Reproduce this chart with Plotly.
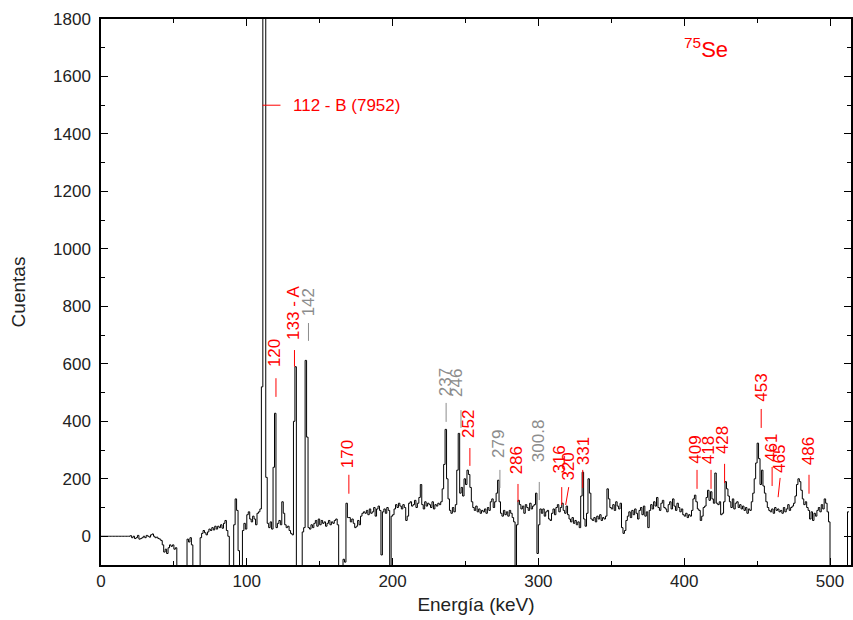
import plotly.graph_objects as go

# ---------------- spectrum data (1 keV channels, left edge energy) ----------------
energy_kev = list(range(0, 514))
counts = [
    0, 0, 0, 0, 0, 0, 0, 0, 0, 0,
    0, 0, 0, 0, 0, 0, 0, 0, 0, 0,
    2, -5, 0, -8, -5, 3, -10, -8, -5, 0,
    -5, 3, 0, -3, 5, 8, 0, -5, -3, -8,
    -10, -15, -30, -55, -45, -60, -40, -30, -35, -30,
    -45, -40, -200, -200, -200, -200, -200, -200, -200, -10,
    -20, -5, -30, -200, -200, -200, -200, -200, -5, 10,
    20, 12, 5, 15, 25, 20, 30, 22, 35, 25,
    35, 30, 40, 28, 45, 55, 20, 0, -200, -200,
    -200, 40, 130, 90, -50, -200, -200, 20, 45, 25,
    75, 85, 60, 50, 70, 60, 40, 80, 85, 95,
    520, 7952, 3500, 205, 45, 30, 50, 25, 240, 428,
    30, 45, 55, 40, 120, 80, 40, 30, 35, 20,
    10, 5, 400, 590, -200, -200, -200, -200, 15, 30,
    612, 345, 30, 25, 40, 30, 45, 55, 35, 60,
    40, 55, 45, 50, 35, 45, 55, 40, 50, 45,
    55, 60, 40, -200, -200, -200, -80, -90, 115, 65,
    65, 50, 60, 45, 30, 35, 55, 40, 70, 80,
    85, 80, 90, 75, 95, 80, 85, 100, 70, 95,
    105, 90, -65, 85, 95, 80, 100, 90, -200, 70,
    75, 95, 110, 100, 115, 105, 95, 110, 100, 55,
    70, 115, 120, 105, 110, 125, 100, 115, 135, 180,
    110, 95, 120, 105, 115, 110, 100, 120, 95, 110,
    105, 115, 110, 120, 165, 250, 372, 200, 130, 90,
    80, 100, 85, 110, 230, 358, 150, 170, 140, 200,
    180, 230, 215, 170, 120, 100, 90, 105, 85, 95,
    80, 90, 85, 95, 80, 100, 90, 120, 130, 100,
    120, 150, 195, 120, 80, 70, 90, 75, 85, 70,
    90, 80, 65, 50, -200, 40, 125, 110, 95, 105,
    80, 110, 100, 90, 115, 95, 105, 110, 150, -60,
    40, 95, 80, 95, 70, 85, 90, 60, 55, 80,
    95, 75, 100, 110, 85, 100, 115, 90, 80, 105,
    75, 60, 50, 65, 45, 55, 40, 50, 30, 140,
    223, 60, 35, 80, 200, 150, 60, 55, 65, 50,
    70, 60, 75, 55, 65, 60, 70, 165, 130, 100,
    95, 110, 90, 120, 105, 95, 115, 30, 10, 20,
    55, 70, 85, 65, 90, 75, 95, 80, 60, 90,
    100, 75, 105, 70, 85, 30, 90, 110, 95, 120,
    105, 135, 100, 90, 115, 125, 100, 95, 85, 110,
    120, 95, 130, 105, 90, 115, 100, 85, 95, 75,
    70, 80, 65, 75, 70, 90, 130, 143, 120, 95,
    90, 55, 70, 100, 105, 135, 160, 125, 155, 130,
    115, 220, 115, 110, 120, 75, 80, 120, 190, 165,
    140, 120, 100, 130, 95, 115, 120, 100, 110, 95,
    105, 90, 100, 80, 95, 90, 120, 150, 200, 255,
    324, 270, 180, 230, 175, 150, 120, 100, 90, 85,
    95, 80, 100, 90, 95, 85, 90, 80, 100, 85,
    95, 110, 90, 100, 105, 115, 140, 180, 200, 190,
    160, 130, 110, 120, 100, 90, 60, 85, 55, 80,
    70, 90, 100, 85, 110, 95, 130, 115, 85, 50,
    -200, -200, -200, -200, -200, -200, -200, -200, -200, -200,
    -200, -200, 85, 85,
]

# ---------------- peak labels ----------------
label_text = ["120", "133 - A", "142", "170", "237", "246", "252", "279", "286",
              "300.8", "316", "320", "331", "409", "418", "428", "453", "461",
              "465", "486"]
label_kind = ["r", "r", "g", "r", "g", "g", "r", "g", "r",
              "g", "r", "r", "r", "r", "r", "r", "r", "r",
              "r", "r"]
label_x = [119, 132, 142.3, 169, 236, 244.2, 252.4, 272.2, 285.6,
           300.3, 314.6, 320.8, 330.7, 408, 416.6, 426.8, 452.4, 460.3,
           465.8, 485]
tick_x0 = [120, 132.7, 142.3, 170, 236.7, 246.9, 253, 273.6, 286,
           300.6, 316, 318.7, 330.4, 408.8, 418.4, 427.7, 452.8, 460.3,
           464.4, 485.6]
tick_x1 = [120, 132.7, 142.3, 170, 236.7, 246.9, 253, 273.6, 286,
           300.6, 316, 320.8, 330.4, 408.8, 418.4, 427.7, 452.8, 460.3,
           465.8, 485.6]
tick_lo = [485, 590, 680, 148, 398, 377, 245, 168, 119,
           126, 109, 109, 168, 165, 165, 185, 377, 175,
           136, 148]
tick_hi = [550, 648, 742, 214, 464, 439, 307, 231, 182,
           189, 171, 171, 231, 231, 231, 252, 443, 241,
           203, 214]
text_base = [580, 676, 760, 231, 481, 478, 335, 265, 210,
             252, 210, 186, 241, 245, 245, 280, 460, 252,
             214, 241]

main_peak_text = "112 - B (7952)"
main_peak_tick = [110.8, 123.1, 1500]   # x0, x1, y
main_peak_text_x = 130

RED = "#ff0000"
GRAY = "#8c8c8c"
colors = {"r": RED, "g": GRAY}
FONT = "Liberation Sans, Arial, Helvetica, sans-serif"

fig = go.Figure()
fig.add_trace(go.Scatter(
    x=energy_kev, y=counts, mode="lines",
    line=dict(color="#000000", width=1, shape="hv"),
    showlegend=False, hoverinfo="skip",
))

shapes = []
annotations = []
for t, k, lx, x0, x1, lo, hi, b in zip(label_text, label_kind, label_x, tick_x0,
                                       tick_x1, tick_lo, tick_hi, text_base):
    c = colors[k]
    shapes.append(dict(type="line", xref="x", yref="y", x0=x0, x1=x1, y0=lo, y1=hi,
                       line=dict(color=c, width=1)))
    annotations.append(dict(x=lx, y=b, xref="x", yref="y", text=t, showarrow=False,
                            textangle=-90, xanchor="center", yanchor="bottom",
                            font=dict(family=FONT, size=17, color=c)))

shapes.append(dict(type="line", xref="x", yref="y", x0=main_peak_tick[0], x1=main_peak_tick[1],
                   y0=main_peak_tick[2], y1=main_peak_tick[2], line=dict(color=RED, width=1)))
annotations.append(dict(x=main_peak_text_x, y=main_peak_tick[2], xref="x", yref="y",
                        text=main_peak_text, showarrow=False, xanchor="left", yanchor="middle",
                        font=dict(family=FONT, size=17, color=RED)))
annotations.append(dict(x=415, y=1700, xref="x", yref="y", text="<sup>75</sup>Se",
                        showarrow=False, xanchor="center", yanchor="middle",
                        font=dict(family=FONT, size=22, color=RED)))

axis_common = dict(
    showgrid=False, zeroline=False, showline=True, linecolor="#000000", linewidth=1.5,
    mirror="ticks", ticks="inside", ticklen=7, tickwidth=1, tickcolor="#000000",
    tickfont=dict(family=FONT, size=17, color="#222222"),
)

fig.update_layout(
    width=853, height=620,
    margin=dict(l=101, r=0, t=19, b=55),
    paper_bgcolor="#ffffff", plot_bgcolor="#ffffff",
    shapes=shapes, annotations=annotations,
    xaxis=dict(range=[0, 514.4], dtick=100, tick0=0,
               minor=dict(ticks="inside", ticklen=4, dtick=50, tickcolor="#000000", showgrid=False),
               title=dict(text="Energía (keV)", font=dict(family=FONT, size=19, color="#222222"),
                          standoff=8),
               **axis_common),
    yaxis=dict(range=[-100, 1800], dtick=200, tick0=0, ticklabelstandoff=5,
               minor=dict(ticks="inside", ticklen=4, dtick=100, tickcolor="#000000", showgrid=False),
               title=dict(text="Cuentas", font=dict(family=FONT, size=19, color="#222222"),
                          standoff=22),
               **axis_common),
)

fig.write_html("out.html")
